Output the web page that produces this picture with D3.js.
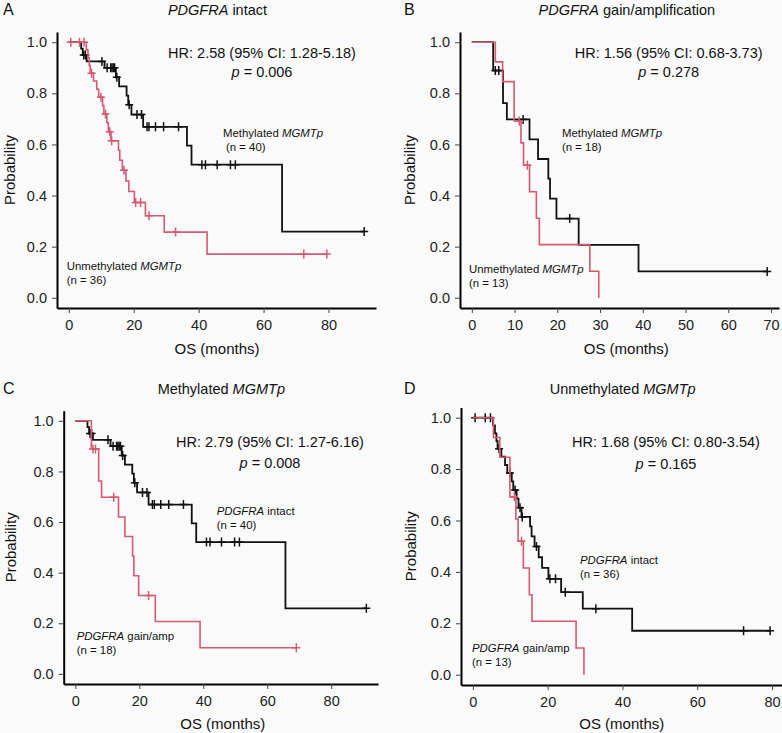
<!DOCTYPE html>
<html>
<head>
<meta charset="utf-8">
<script src="https://cdn.jsdelivr.net/npm/d3@7"></script>
<style>
  body { margin: 0; background: #fafafa; }
  svg { display: block; font-family: "Liberation Sans", Arial, Helvetica, sans-serif; }
</style>
</head>
<body>
<svg id="chart" width="782" height="733"></svg>
<script>
// Kaplan-Meier steps: [months, survival]
const intactMethSteps = [[0, 1], [3.8, 0.975], [4.3, 0.950], [5.5, 0.925], [11.0, 0.900], [14.5, 0.863],
  [15.5, 0.827], [17.8, 0.791], [18.3, 0.755], [19.3, 0.717], [22.9, 0.669], [36.4, 0.595],
  [37.8, 0.521], [65.7, 0.259]];
const intactMethCensor = [[4.6, 0.95], [5.1, 0.95], [10.2, 0.925], [11.8, 0.9], [12.9, 0.9], [13.3, 0.9],
  [13.7, 0.9], [14.1, 0.9], [14.8, 0.863], [18.6, 0.755], [21.0, 0.717], [22.4, 0.717], [24.1, 0.669],
  [24.7, 0.669], [26.7, 0.669], [29.2, 0.669], [33.8, 0.669], [41.0, 0.521], [42.1, 0.521],
  [45.7, 0.521], [49.8, 0.521], [51.3, 0.521], [91.0, 0.259]];
const intactMethEnd = 91.0;

const intactUnmethSteps = [[0, 1], [5.4, 0.970], [5.9, 0.939], [6.3, 0.909], [6.6, 0.879], [7.6, 0.848],
  [8.6, 0.816], [9.2, 0.785], [10.4, 0.752], [10.8, 0.719], [11.7, 0.685], [12.2, 0.650], [13.0, 0.614],
  [15.3, 0.577], [15.7, 0.538], [16.5, 0.499], [17.6, 0.457], [18.5, 0.416], [20.2, 0.373],
  [23.6, 0.321], [29.4, 0.257], [42.6, 0.171]];
const intactUnmethCensor = [[0.6, 1], [3.3, 1], [4.7, 1], [7.0, 0.879], [9.9, 0.785], [11.3, 0.719],
  [12.6, 0.650], [13.2, 0.614], [17.0, 0.499], [20.6, 0.373], [22.1, 0.373], [24.7, 0.321],
  [32.9, 0.257], [72.4, 0.171], [79.5, 0.171]];
const intactUnmethEnd = 79.5;

const gainMethSteps = [[0, 1], [5.0, 0.889], [7.3, 0.762], [8.2, 0.698], [13.5, 0.620], [15.5, 0.543],
  [17.9, 0.466], [18.3, 0.388], [19.8, 0.310], [25.0, 0.207], [39.0, 0.103]];
const gainMethCensor = [[5.5, 0.889], [6.3, 0.889], [12.0, 0.698], [22.9, 0.310], [69.1, 0.103]];
const gainMethEnd = 69.1;

const gainUnmethSteps = [[0, 1], [5.5, 0.923], [7.2, 0.846], [9.9, 0.692], [11.5, 0.606], [12.1, 0.519],
  [13.5, 0.415], [15.1, 0.311], [15.8, 0.208], [27.6, 0.104], [29.7, 0]];
const gainUnmethCensor = [[11.1, 0.692], [13.0, 0.519]];
const gainUnmethEnd = 29.7;

const yTicks = [0, 0.2, 0.4, 0.6, 0.8, 1.0];
const xTicks20 = [0, 20, 40, 60, 80];
const xTicks10 = [0, 10, 20, 30, 40, 50, 60, 70];

const hrLabels = ['HR: 2.58 (95% CI: 1.28-5.18)', 'HR: 1.56 (95% CI: 0.68-3.73)',
  'HR: 2.79 (95% CI: 1.27-6.16)', 'HR: 1.68 (95% CI: 0.80-3.54)'];
const pLabels = ['0.006', '0.278', '0.008', '0.165'];

const series = {
  intactMeth: { steps: intactMethSteps, censor: intactMethCensor, end: intactMethEnd },
  intactUnmeth: { steps: intactUnmethSteps, censor: intactUnmethCensor, end: intactUnmethEnd },
  gainMeth: { steps: gainMethSteps, censor: gainMethCensor, end: gainMethEnd },
  gainUnmeth: { steps: gainUnmethSteps, censor: gainUnmethCensor, end: gainUnmethEnd }
};

const BLACK = '#111';
const RED = '#d45a72';

const panels = [
  { letter: 'A', letterX: 3, titleY: 15, title: [['PDGFRA', 1], [' intact']], titleX: 217.5,
    box: { left: 57, right: 376, top: 32, bottom: 308 }, xMax: 91, xTicks: xTicks20,
    black: 'intactMeth', red: 'intactUnmeth', hr: 0, hrX: 262, hrY: 57.5, pY: 76.5,
    blackLab: { x: 223, y: 136.5, nx: 226, parts: [['Methylated '], ['MGMTp', 1]], n: '(n = 40)' },
    redLab: { x: 66.7, y: 270, nx: 66.7, parts: [['Unmethylated '], ['MGMTp', 1]], n: '(n = 36)' },
    probX: 15, osX: 217, osY: 354 },
  { letter: 'B', letterX: 404, titleY: 15, title: [['PDGFRA', 1], [' gain/amplification']], titleX: 626.8,
    box: { left: 460, right: 779, top: 32, bottom: 308 }, xMax: 69.1, xTicks: xTicks10,
    black: 'gainMeth', red: 'gainUnmeth', hr: 1, hrX: 668.7, hrY: 57.5, pY: 76.5,
    blackLab: { x: 562, y: 136.5, nx: 562, parts: [['Methylated '], ['MGMTp', 1]], n: '(n = 18)' },
    redLab: { x: 469, y: 273, nx: 469, parts: [['Unmethylated '], ['MGMTp', 1]], n: '(n = 13)' },
    probX: 415, osX: 626.3, osY: 354 },
  { letter: 'C', letterX: 3, titleY: 393.5, title: [['Methylated '], ['MGMTp', 1]], titleX: 221.3,
    box: { left: 63.7, right: 378, top: 410.7, bottom: 684 }, xMax: 91, xTicks: xTicks20,
    black: 'intactMeth', red: 'gainMeth', hr: 2, hrX: 270, hrY: 446.5, pY: 468,
    blackLab: { x: 216.7, y: 515, nx: 216.7, parts: [['PDGFRA', 1], [' intact']], n: '(n = 40)' },
    redLab: { x: 76.7, y: 640, nx: 76.7, parts: [['PDGFRA', 1], [' gain/amp']], n: '(n = 18)' },
    probX: 16, osX: 222.8, osY: 729 },
  { letter: 'D', letterX: 404, titleY: 393.5, title: [['Unmethylated '], ['MGMTp', 1]], titleX: 622.7,
    box: { left: 461, right: 782, top: 407.4, bottom: 685 }, xMax: 79.5, xTicks: xTicks20,
    black: 'intactUnmeth', red: 'gainUnmeth', hr: 3, hrX: 666, hrY: 446.5, pY: 468.5,
    blackLab: { x: 580, y: 564, nx: 580, parts: [['PDGFRA', 1], [' intact']], n: '(n = 36)' },
    redLab: { x: 472, y: 652, nx: 472, parts: [['PDGFRA', 1], [' gain/amp']], n: '(n = 13)' },
    probX: 416, osX: 621.8, osY: 729 }
];

const svg = d3.select('#chart');
svg.append('rect').attr('width', 782).attr('height', 733).attr('fill', '#fafafa');

const rich = (sel, parts) => parts.forEach(([t, it]) =>
  sel.append('tspan').text(t).attr('font-style', it ? 'italic' : null));

const drawCurve = (g, x, y, s, color, width) => {
  const pts = s.steps.concat([[s.end, s.steps[s.steps.length - 1][1]]]);
  g.append('path')
    .attr('d', d3.line().x(d => x(d[0])).y(d => y(d[1])).curve(d3.curveStepAfter)(pts))
    .attr('fill', 'none')
    .attr('stroke', color)
    .attr('stroke-width', width);
  g.selectAll(null).data(s.censor).enter().append('path')
    .attr('d', d => {
      const cx = x(d[0]), cy = y(d[1]);
      return `M${cx - 4},${cy}H${cx + 4}M${cx},${cy - 4.5}V${cy + 4.5}`;
    })
    .attr('stroke', color)
    .attr('stroke-width', 1.5);
};

panels.forEach(p => {
  const g = svg.append('g');
  const b = p.box;
  const x = d3.scaleLinear().domain([-0.04 * p.xMax, 1.04 * p.xMax]).range([b.left, b.right]);
  const y = d3.scaleLinear().domain([-0.04, 1.04]).range([b.bottom, b.top]);

  // axes
  const yAxis = g.append('g').attr('transform', `translate(${b.left},0)`)
    .call(d3.axisLeft(y).tickValues(yTicks).tickFormat(d3.format('.1f')).tickSize(5).tickSizeOuter(0).tickPadding(5));
  const xAxis = g.append('g').attr('transform', `translate(0,${b.bottom})`)
    .call(d3.axisBottom(x).tickValues(p.xTicks).tickFormat(d3.format('d')).tickSize(5).tickSizeOuter(0).tickPadding(7));
  [yAxis, xAxis].forEach(a => {
    a.select('.domain').attr('stroke', '#000').attr('stroke-width', 2);
    a.selectAll('.tick line').attr('stroke', '#444');
    a.selectAll('.tick text').attr('font-size', 14.5).attr('fill', '#222')
      .attr('font-family', '"Liberation Sans", Arial, sans-serif');
  });

  // curves
  drawCurve(g, x, y, series[p.black], BLACK, 1.8);
  drawCurve(g, x, y, series[p.red], RED, 1.6);

  // texts
  g.append('text').attr('x', p.letterX).attr('y', p.titleY).attr('font-size', 16).attr('fill', '#111').text(p.letter);
  rich(g.append('text').attr('x', p.titleX).attr('y', p.titleY).attr('text-anchor', 'middle')
    .attr('font-size', 14.5).attr('fill', '#111'), p.title);
  g.append('text').attr('x', p.hrX).attr('y', p.hrY).attr('text-anchor', 'middle')
    .attr('font-size', 14.5).attr('fill', '#111').text(hrLabels[p.hr]);
  rich(g.append('text').attr('x', p.hrX).attr('y', p.pY).attr('text-anchor', 'middle')
    .attr('font-size', 14.5).attr('fill', '#111'), [['p', 1], [' = ' + pLabels[p.hr]]]);

  [p.blackLab, p.redLab].forEach(l => {
    rich(g.append('text').attr('x', l.x).attr('y', l.y).attr('font-size', 11.4).attr('fill', '#111'), l.parts);
    g.append('text').attr('x', l.nx).attr('y', l.y + 14).attr('font-size', 11.4).attr('fill', '#111').text(l.n);
  });

  g.append('text').attr('transform', `translate(${p.probX},${(b.top + b.bottom) / 2}) rotate(-90)`)
    .attr('text-anchor', 'middle').attr('font-size', 15).attr('fill', '#111').text('Probability');
  g.append('text').attr('x', p.osX).attr('y', p.osY).attr('text-anchor', 'middle')
    .attr('font-size', 15).attr('fill', '#111').text('OS (months)');
});
</script>
</body>
</html>
